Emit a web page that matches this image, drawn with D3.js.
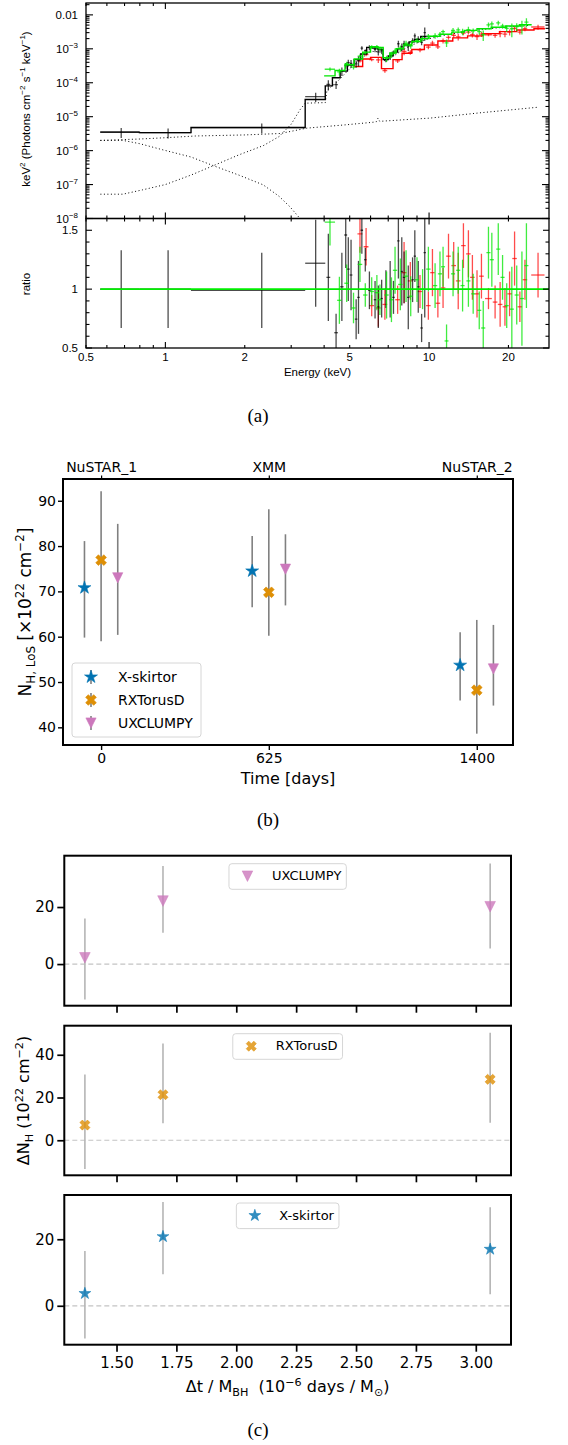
<!DOCTYPE html>
<html>
<head>
<meta charset="utf-8">
<script src="https://cdn.jsdelivr.net/npm/d3@7"></script>
<style>
  body { margin: 0; background: #fff; }
  svg { display: block; }
  text { white-space: pre; }
  .xs text { font-family: "Liberation Sans", Arial, sans-serif; }
  .mpl text { font-family: "DejaVu Sans", sans-serif; }
  .cap { font-family: "Liberation Serif", "Times New Roman", serif; font-size: 19px; }
</style>
</head>
<body>
<svg id="fig" width="568" height="1445"></svg>
<script>
// ===== (a) spectrum + ratio =====
// each point: [E keV, half bin width, flux keV^2 ph/cm2/s/keV, data/model ratio, ratio error]
var xmmPoints = [
  [0.68, 0.115, 3.5e-6, 1.00, 0.33], [1.024, 0.227, 3.4e-6, 1.00, 0.33], [2.32, 1.07, 4.75e-6, 0.99, 0.32],
  [3.715, 0.325, 3.9e-5, 1.22, 0.37], [4.15, 0.07, 8.9e-5, 1.10, 0.37], [4.44, 0.07, 8.8e-5, 0.63, 0.16],
  [4.67, 0.07, 2.2e-4, 1.02, 0.29], [4.83, 0.06, 3.2e-4, 1.46, 0.28], [4.94, 0.06, 3.9e-4, 1.17, 0.27],
  [5.06, 0.06, 3.7e-4, 1.12, 0.30], [5.29, 0.06, 3.6e-4, 0.745, 0.17], [5.40, 0.06, 4.5e-4, 0.93, 0.31],
  [5.56, 0.06, 1.05e-3, 1.50, 0.20], [5.73, 0.06, 8.8e-4, 1.25, 0.10], [5.94, 0.07, 1.09e-3, 0.99, 0.16],
  [6.24, 0.07, 9.6e-4, 0.91, 0.16], [6.42, 0.07, 8.1e-4, 0.85, 0.18], [6.61, 0.07, 8.7e-4, 0.92, 0.16],
  [6.86, 0.08, 4.8e-4, 1.00, 0.16], [7.12, 0.08, 6.2e-4, 1.00, 0.24], [7.33, 0.08, 7.4e-4, 0.93, 0.14],
  [7.65, 0.08, 1.41e-3, 1.41, 0.32], [7.88, 0.08, 1.15e-3, 1.15, 0.29], [8.04, 0.09, 1.43e-3, 1.10, 0.22],
  [8.34, 0.09, 1.21e-3, 0.93, 0.27], [8.66, 0.09, 1.73e-3, 1.08, 0.19], [8.83, 0.09, 2.4e-3, 1.28, 0.22],
  [9.10, 0.10, 1.94e-3, 1.02, 0.22], [9.37, 0.10, 1.54e-3, 0.67, 0.12], [9.63, 0.10, 3.0e-3, 1.31, 0.55]
];
var fpmaPoints = [
  [5.47, 0.12, 4.4e-4, 1.47, 0.16], [5.77, 0.12, 6.8e-4, 1.36, 0.16], [6.06, 0.13, 4.8e-4, 0.86, 0.09],
  [6.42, 0.13, 4.7e-4, 0.84, 0.16], [6.80, 0.14, 2.3e-4, 0.87, 0.13], [7.60, 0.16, 4.4e-4, 0.91, 0.12],
  [8.04, 0.17, 8.4e-4, 1.14, 0.26], [8.49, 0.18, 7.9e-4, 1.07, 0.16], [9.24, 0.19, 9.3e-4, 0.98, 0.14],
  [9.94, 0.20, 1.12e-3, 0.86, 0.12], [10.3, 0.20, 1.48e-3, 1.14, 0.20], [10.8, 0.22, 1.14e-3, 0.88, 0.12],
  [11.3, 0.23, 1.72e-3, 1.01, 0.17], [11.85, 0.24, 2.18e-3, 1.28, 0.19], [12.4, 0.25, 2.5e-3, 1.20, 0.20],
  [12.9, 0.26, 2.25e-3, 1.07, 0.24], [13.5, 0.27, 2.9e-3, 1.37, 0.19], [14.1, 0.28, 3.1e-3, 1.30, 0.20],
  [14.6, 0.29, 2.6e-3, 1.10, 0.19], [15.2, 0.30, 2.3e-3, 0.96, 0.20], [15.8, 0.32, 2.7e-3, 1.11, 0.19],
  [16.8, 0.50, 2.6e-3, 0.92, 0.09], [17.8, 0.36, 2.5e-3, 0.89, 0.14], [18.6, 0.37, 2.8e-3, 0.87, 0.19],
  [19.4, 0.39, 2.7e-3, 0.85, 0.16], [20.2, 0.40, 3.1e-3, 0.96, 0.19], [21.1, 0.42, 4.0e-3, 1.26, 0.23],
  [22.1, 0.44, 3.1e-3, 0.85, 0.13], [23.1, 0.46, 3.9e-3, 1.08, 0.17], [25.9, 1.50, 4.4e-3, 1.12, 0.19]
];
var fpmbPoints = [
  [4.21, 0.19, 2.5e-4, 1.57, 0.20], [4.57, 0.09, 2.1e-4, 0.905, 0.20], [4.87, 0.10, 3.6e-4, 1.05, 0.16],
  [5.17, 0.10, 2.9e-4, 0.84, 0.13], [5.47, 0.11, 6.1e-4, 1.21, 0.15], [5.73, 0.11, 7.6e-4, 0.95, 0.10],
  [6.06, 0.12, 1.13e-3, 0.98, 0.12], [6.34, 0.12, 1.12e-3, 0.97, 0.15], [6.51, 0.12, 1.0e-3, 0.91, 0.13],
  [6.90, 0.13, 5.2e-4, 0.95, 0.20], [7.20, 0.13, 6.8e-4, 0.91, 0.19], [7.43, 0.14, 8.7e-4, 1.16, 0.20],
  [7.78, 0.15, 1.04e-3, 1.04, 0.22], [8.18, 0.16, 1.44e-3, 1.11, 0.22], [8.52, 0.16, 1.22e-3, 0.94, 0.17],
  [9.00, 0.17, 1.78e-3, 1.08, 0.19], [9.45, 0.18, 2.0e-3, 1.00, 0.17], [9.94, 0.19, 2.34e-3, 1.17, 0.19],
  [10.54, 0.20, 2.42e-3, 1.03, 0.19], [11.0, 0.20, 2.66e-3, 1.13, 0.19], [11.3, 0.20, 3.2e-3, 1.19, 0.17],
  [11.65, 0.20, 1.5e-3, 0.56, 0.14], [12.33, 0.22, 3.5e-3, 1.13, 0.19], [12.9, 0.23, 3.6e-3, 1.16, 0.20],
  [13.4, 0.24, 3.2e-3, 1.03, 0.22], [14.1, 0.25, 3.7e-3, 1.07, 0.22], [14.7, 0.26, 3.4e-3, 0.96, 0.17],
  [15.5, 0.28, 3.2e-3, 0.82, 0.16], [16.05, 0.29, 2.6e-3, 0.67, 0.23], [16.8, 0.30, 5.1e-3, 1.31, 0.22],
  [17.3, 0.31, 5.4e-3, 1.25, 0.23], [18.3, 0.33, 5.8e-3, 1.34, 0.22], [19.0, 0.34, 4.7e-3, 1.10, 0.19],
  [19.7, 0.35, 4.0e-3, 0.86, 0.19], [20.6, 0.37, 3.9e-3, 0.83, 0.36], [21.5, 0.39, 4.5e-3, 0.95, 0.25],
  [22.5, 0.40, 4.7e-3, 0.92, 0.40], [23.4, 0.42, 6.1e-3, 1.20, 0.36]
];

// folded model histograms: bin edges and value per bin
var xmmEdges = [0.567, 0.797, 1.251, 3.39, 4.04, 4.3, 4.6, 4.9, 5.2, 5.5, 5.8, 6.1, 6.4, 6.7, 7.0, 7.3, 7.6, 8.0, 8.4, 8.8, 9.3, 9.9];
var xmmModel = [3.5e-6, 3.4e-6, 4.8e-6, 3.2e-5, 8.1e-5, 1.4e-4, 2.2e-4, 3.3e-4, 4.8e-4, 7.0e-4, 1.1e-3, 1.05e-3, 9.5e-4, 4.8e-4, 6.2e-4, 8.0e-4, 1.0e-3, 1.3e-3, 1.6e-3, 1.9e-3, 2.3e-3];
var fpmaEdges = [5.2, 5.6, 6.0, 6.6, 7.3, 7.9, 8.6, 9.6, 10.8, 12.3, 14.0, 16.0, 18.5, 21.5, 25.0, 27.5];
var fpmaModel = [3.0e-4, 5.0e-4, 5.6e-4, 2.6e-4, 4.8e-4, 7.4e-4, 9.5e-4, 1.3e-3, 1.7e-3, 2.1e-3, 2.4e-3, 2.8e-3, 3.2e-3, 3.6e-3, 3.9e-3];
var fpmbEdges = [4.0, 4.4, 4.8, 5.2, 5.6, 6.0, 6.4, 6.7, 7.1, 7.5, 8.0, 8.6, 9.3, 10.0, 11.0, 12.2, 13.6, 15.2, 17.2, 19.5, 22.0, 24.5];
var fpmbModel = [1.6e-4, 2.3e-4, 3.4e-4, 5.0e-4, 8.0e-4, 1.15e-3, 1.1e-3, 5.5e-4, 7.5e-4, 1.0e-3, 1.3e-3, 1.65e-3, 2.0e-3, 2.35e-3, 2.7e-3, 3.1e-3, 3.5e-3, 3.9e-3, 4.3e-3, 4.7e-3, 5.1e-3];

// model components (dotted): [E, flux]
var compSoft = [[0.567, 2.0e-6], [0.69, 2.0e-6], [0.8, 1.6e-6], [0.98, 1.05e-6], [1.25, 6.5e-7], [1.52, 3.6e-7],
  [1.9, 1.9e-7], [2.35, 9.8e-8], [2.7, 4.5e-8], [2.97, 2.2e-8], [3.24, 1.0e-8], [3.5, 5e-9]];
var compMain = [[0.567, 5.2e-8], [0.69, 5.2e-8], [0.82, 7e-8], [1.0, 1.0e-7], [1.25, 1.9e-7], [1.52, 3.6e-7],
  [1.9, 7.5e-7], [2.35, 1.4e-6], [2.7, 2.6e-6], [3.0, 6e-6], [3.24, 1.6e-5], [3.39, 2.5e-5], [4.04, 2.6e-5],
  [4.1, 6.0e-5], [4.5, 1.1e-4], [5.0, 2.6e-4], [5.5, 5.0e-4], [6.0, 8.5e-4], [6.6, 8.0e-4], [6.8, 4.2e-4],
  [7.2, 5.6e-4], [8.0, 9.5e-4], [9.0, 1.5e-3], [10, 2.0e-3], [12, 2.7e-3], [15, 3.5e-3], [18, 4.1e-3],
  [21, 4.6e-3], [24, 4.9e-3]];
var compScat = [[0.567, 2.0e-6], [0.8, 2.2e-6], [1.0, 2.4e-6], [1.3, 2.7e-6], [2.0, 2.9e-6], [2.73, 3.2e-6],
  [3.44, 4.6e-6], [4.88, 5.8e-6], [6.3, 7.0e-6], [6.4, 9.0e-6], [6.5, 7.3e-6], [10.1, 9.1e-6], [15.6, 1.3e-5],
  [25.9, 1.9e-5]];

var energyLabels = [0.5, 1, 2, 5, 10, 20];
var fluxTickVals = [1e-2, 1e-3, 1e-4, 1e-5, 1e-6, 1e-7, 1e-8];
var fluxTickExp = ["", "−3", "−4", "−5", "−6", "−7", "−8"];
var ratioLabels = [0.5, 1, 1.5];

// ===== (b) N_H per epoch =====
var epochDays = [0, 625, 1400];
var epochNames = ["NuSTAR_1", "XMM", "NuSTAR_2"];
var modelNames = ["X-skirtor", "RXTorusD", "UXCLUMPY"];
var nhVal = [[70.8, 74.5, 53.7], [76.9, 69.8, 48.2], [73.0, 74.9, 52.9]];
var nhLo = [[59.8, 66.5, 45.9], [59.0, 60.2, 38.6], [60.4, 66.9, 44.8]];
var nhHi = [[81.1, 82.2, 61.0], [92.1, 88.1, 63.7], [84.9, 82.6, 62.6]];
var nhTicks = [40, 50, 60, 70, 80, 90];

// ===== (c) Delta N_H vs dt/M =====
var dtOverM = [1.368, 1.694, 3.06];
var dnhVal = [[3.7, 20.8, 17.0], [7.1, 21.3, 28.5], [2.2, 22.1, 20.1]];
var dnhLo = [[-9.8, 9.5, 3.5], [-13.4, 7.9, 8.2], [-12.4, 11.0, 5.5]];
var dnhHi = [[16.5, 31.2, 29.6], [30.8, 45.3, 50.3], [16.0, 34.4, 35.3]];
var dtTicks = [1.50, 1.75, 2.00, 2.25, 2.50, 2.75, 3.00];

// styles
var modelColors = ["#0173b2", "#de8f05", "#cc78bc"];
var modelShapes = ["star", "x", "tri"];
var dodgeDays = [-62, 0, 62];

var svg = d3.select("#fig");
var defs = svg.append("defs");

function rich(t, parts, fs) {
  var shift = 0;
  parts.forEach(function(p) {
    var mode = p[1] || "";
    var target = mode === "sup" ? -0.4 * fs : mode === "sub" ? 0.25 * fs : 0;
    t.append("tspan").attr("dy", target - shift).attr("font-size", mode ? fs * 0.7 : fs).text(p[0]);
    shift = target;
  });
}

// ---------------- panel (a) ----------------
var A = {left: 86, right: 549, top: 3, mid: 218.5, bottom: 348};
var xa = d3.scaleLog().domain([0.5, 28.5]).range([A.left, A.right]);
var ya = d3.scaleLog().domain([1e-8, Math.pow(10, -1.65)]).range([A.mid, A.top]);
var yr = d3.scaleLinear().domain([0.5, 1.6]).range([A.bottom, A.mid]);

defs.append("clipPath").attr("id", "clipTop").append("rect")
  .attr("x", A.left).attr("y", A.top).attr("width", A.right - A.left).attr("height", A.mid - A.top);
defs.append("clipPath").attr("id", "clipRat").append("rect")
  .attr("x", A.left).attr("y", A.mid).attr("width", A.right - A.left).attr("height", A.bottom - A.mid);

var gA = svg.append("g").attr("class", "xs");
var topG = gA.append("g").attr("clip-path", "url(#clipTop)");
var ratG = gA.append("g").attr("clip-path", "url(#clipRat)");

var lineA = d3.line().x(function(d) { return xa(d[0]); }).y(function(d) { return ya(d[1]); });
[compSoft, compMain, compScat].forEach(function(c) {
  topG.append("path").attr("d", lineA(c)).attr("fill", "none")
    .attr("stroke", "#000").attr("stroke-width", 1).attr("stroke-dasharray", "1,2.5");
});

var stepLine = d3.line().curve(d3.curveStepAfter)
  .x(function(d) { return xa(d[0]); }).y(function(d) { return ya(d[1]); });
function stepPts(edges, vals) {
  var p = vals.map(function(v, i) { return [edges[i], v]; });
  p.push([edges[edges.length - 1], vals[vals.length - 1]]);
  return p;
}

var specSets = [
  {pts: fpmaPoints, edges: fpmaEdges, vals: fpmaModel, color: "#ff0000", op: 0.7},
  {pts: xmmPoints, edges: xmmEdges, vals: xmmModel, color: "#000000", op: 0.7},
  {pts: fpmbPoints, edges: fpmbEdges, vals: fpmbModel, color: "#00e600", op: 0.75}
];

specSets.forEach(function(s) {
  var g = topG.append("g").attr("stroke", s.color).attr("stroke-opacity", s.op).attr("stroke-width", 1.3);
  var r = ratG.append("g").attr("stroke", s.color).attr("stroke-opacity", s.op).attr("stroke-width", 1.3);
  s.pts.forEach(function(p) {
    var E = p[0], dE = p[1], f = p[2], q = p[3], qe = p[4], fr = qe / q;
    g.append("line").attr("x1", xa(E)).attr("x2", xa(E))
      .attr("y1", ya(f * (1 + fr))).attr("y2", ya(Math.max(f * (1 - fr), 1e-9)));
    g.append("line").attr("x1", xa(E - dE)).attr("x2", xa(E + dE)).attr("y1", ya(f)).attr("y2", ya(f));
    r.append("line").attr("x1", xa(E)).attr("x2", xa(E)).attr("y1", yr(q + qe)).attr("y2", yr(q - qe));
    r.append("line").attr("x1", xa(E - dE)).attr("x2", xa(E + dE)).attr("y1", yr(q)).attr("y2", yr(q));
  });
  topG.append("path").attr("d", stepLine(stepPts(s.edges, s.vals))).attr("fill", "none")
    .attr("stroke", s.color).attr("stroke-width", 1.4);
});

ratG.append("line").attr("x1", xa(0.567)).attr("x2", A.right).attr("y1", yr(1)).attr("y2", yr(1))
  .attr("stroke", "#00ee00").attr("stroke-width", 1.8);

// frame
[[A.top, A.mid], [A.mid, A.bottom]].forEach(function(b) {
  gA.append("rect").attr("x", A.left).attr("y", b[0]).attr("width", A.right - A.left).attr("height", b[1] - b[0])
    .attr("fill", "none").attr("stroke", "#000").attr("stroke-width", 1.3);
});

// ticks (inward, all sides)
var tk = gA.append("g").attr("stroke", "#000").attr("stroke-width", 1.1);
var xTicks = [];
[0.1, 1, 10].forEach(function(d) {
  for (var k = 1; k < 10; k++) { var v = k * d; if (v >= 0.5 && v <= 28.5) xTicks.push({v: v, major: k === 1}); }
});
xTicks.forEach(function(t) {
  var x = xa(t.v), L = t.major ? 6 : 3;
  [[A.top, 1], [A.mid, -1], [A.mid, 1], [A.bottom, -1]].forEach(function(e) {
    tk.append("line").attr("x1", x).attr("x2", x).attr("y1", e[0]).attr("y2", e[0] + e[1] * L);
  });
});
for (var e = -8; e <= -2; e++) {
  for (var k = 1; k < 10; k++) {
    var v = k * Math.pow(10, e);
    if (v > ya.domain()[1]) break;
    var y = ya(v), L = k === 1 ? 7 : 3.5;
    tk.append("line").attr("x1", A.left).attr("x2", A.left + L).attr("y1", y).attr("y2", y);
    tk.append("line").attr("x1", A.right).attr("x2", A.right - L).attr("y1", y).attr("y2", y);
  }
}
d3.range(0.5, 1.61, 0.1).forEach(function(v) {
  var y = yr(v), major = Math.abs(v * 2 - Math.round(v * 2)) < 1e-6, L = major ? 6 : 3.5;
  tk.append("line").attr("x1", A.left).attr("x2", A.left + L).attr("y1", y).attr("y2", y);
  tk.append("line").attr("x1", A.right).attr("x2", A.right - L).attr("y1", y).attr("y2", y);
});

var fsA = 11.5;
energyLabels.forEach(function(v) {
  gA.append("text").attr("x", xa(v)).attr("y", 361).attr("text-anchor", "middle").attr("font-size", fsA).text(v);
});
fluxTickVals.forEach(function(v, i) {
  var t = gA.append("text").attr("x", 78).attr("y", ya(v) + 4).attr("text-anchor", "end").attr("font-size", fsA);
  if (fluxTickExp[i] === "") t.text("0.01");
  else {
    t.append("tspan").text("10");
    t.append("tspan").attr("dy", -5).attr("font-size", 8).text(fluxTickExp[i]);
  }
});
ratioLabels.forEach(function(v) {
  gA.append("text").attr("x", 78).attr("y", yr(v) + 4).attr("text-anchor", "end").attr("font-size", fsA).text(v);
});
gA.append("text").attr("x", (A.left + A.right) / 2).attr("y", 376).attr("text-anchor", "middle")
  .attr("font-size", fsA).text("Energy (keV)");
rich(gA.append("text").attr("transform", "translate(29.5,109) rotate(-90)").attr("text-anchor", "middle"),
  [["keV"], ["2", "sup"], [" (Photons cm"], ["−2", "sup"], [" s"], ["−1", "sup"], [" keV"], ["−1", "sup"], [")"]], fsA);
gA.append("text").attr("transform", "translate(29.5,284) rotate(-90)").attr("text-anchor", "middle")
  .attr("font-size", fsA).text("ratio");

svg.append("text").attr("class", "cap").attr("x", 258).attr("y", 422).attr("text-anchor", "middle").text("(a)");

// ---------------- markers ----------------
function marker(g, shape, x, y, color, sz) {
  var p;
  if (shape === "star") {
    p = g.append("path").attr("d", d3.symbol(d3.symbolStar, sz.star)()).attr("transform", "translate(" + x + "," + y + ")");
  } else if (shape === "x") {
    p = g.append("path").attr("d", d3.symbol(d3.symbolCross, sz.x)()).attr("transform", "translate(" + x + "," + y + ") rotate(45)");
  } else {
    var r = sz.tri;
    p = g.append("path").attr("d", "M" + (-r) + "," + (-r) + "L" + r + "," + (-r) + "L0," + r + "Z")
      .attr("transform", "translate(" + x + "," + y + ")");
  }
  return p.attr("fill", color).attr("stroke", color).attr("stroke-width", 0.6).attr("stroke-linejoin", "round");
}

// ---------------- panel (b) ----------------
var B = {left: 63, right: 513, top: 479, bottom: 745};
var xb = d3.scaleLinear().domain([-142, 1535]).range([B.left, B.right]);
var yb = d3.scaleLinear().domain([36.1, 94.8]).range([B.bottom, B.top]);
var gB = svg.append("g").attr("class", "mpl");
var szB = {star: 52, x: 72, tri: 5.1};

function styleAxis(g, fs, w) {
  g.select(".domain").remove();
  g.attr("font-size", fs).attr("font-family", null);
  g.selectAll("line").attr("stroke", "#000").attr("stroke-width", w);
  g.selectAll("text").attr("fill", "#000");
}

gB.append("g").attr("transform", "translate(" + B.left + ",0)")
  .call(d3.axisLeft(yb).tickValues(nhTicks).tickSize(5).tickPadding(2))
  .call(styleAxis, 14, 1.4);
gB.append("g").attr("transform", "translate(0," + B.bottom + ")")
  .call(d3.axisBottom(xb).tickValues(epochDays).tickSize(5).tickPadding(3).tickFormat(d3.format("d")))
  .call(styleAxis, 14, 1.4);
gB.append("g").attr("transform", "translate(0," + B.top + ")")
  .call(d3.axisTop(xb).tickValues(epochDays).tickSize(3.5).tickPadding(4)
    .tickFormat(function(d, i) { return epochNames[i]; }))
  .call(styleAxis, 14, 1.2);

modelNames.forEach(function(m, j) {
  epochDays.forEach(function(d, i) {
    var x = xb(d + dodgeDays[j]);
    gB.append("line").attr("x1", x).attr("x2", x).attr("y1", yb(nhHi[j][i])).attr("y2", yb(nhLo[j][i]))
      .attr("stroke", "#808080").attr("stroke-width", 1.6);
  });
});
modelNames.forEach(function(m, j) {
  epochDays.forEach(function(d, i) {
    marker(gB, modelShapes[j], xb(d + dodgeDays[j]), yb(nhVal[j][i]), modelColors[j], szB);
  });
});

gB.append("rect").attr("x", B.left).attr("y", B.top).attr("width", B.right - B.left).attr("height", B.bottom - B.top)
  .attr("fill", "none").attr("stroke", "#000").attr("stroke-width", 2);

var legB = gB.append("g");
legB.append("rect").attr("x", B.left + 9).attr("y", B.bottom - 82).attr("width", 129).attr("height", 74)
  .attr("rx", 3).attr("fill", "#fff").attr("fill-opacity", 0.8).attr("stroke", "#d6d6d6");
modelNames.forEach(function(m, j) {
  var y = B.bottom - 68 + j * 23;
  legB.append("line").attr("x1", B.left + 28).attr("x2", B.left + 28).attr("y1", y - 7).attr("y2", y + 7)
    .attr("stroke", "#808080").attr("stroke-width", 1.6);
  marker(legB, modelShapes[j], B.left + 28, y, modelColors[j], szB);
  legB.append("text").attr("x", B.left + 55).attr("y", y).attr("dy", "0.36em").attr("font-size", 14).text(m);
});

gB.append("text").attr("x", (B.left + B.right) / 2).attr("y", 784).attr("text-anchor", "middle")
  .attr("font-size", 16).text("Time [days]");
rich(gB.append("text").attr("transform", "translate(31," + ((B.top + B.bottom) / 2) + ") rotate(-90)").attr("text-anchor", "middle"),
  [["N"], ["H, LoS", "sub"], [" [×10"], ["22", "sup"], [" cm"], ["−2", "sup"], ["]"]], 17);

svg.append("text").attr("class", "cap").attr("x", 268).attr("y", 826).attr("text-anchor", "middle").text("(b)");

// ---------------- panel (c) ----------------
var C = {left: 64.3, right: 511};
var xc = d3.scaleLinear().domain([1.282, 3.147]).range([C.left, C.right]);
var subs = [
  {model: 2, top: 855.7, bottom: 1005.7, dom: [-14.6, 38], ticks: [0, 20]},
  {model: 1, top: 1025.7, bottom: 1175.3, dom: [-16.4, 53.6], ticks: [0, 20, 40]},
  {model: 0, top: 1195, bottom: 1344.7, dom: [-11.7, 33.3], ticks: [0, 20]}
];
var szC = {star: 44, x: 64, tri: 5.3};
var gC = svg.append("g").attr("class", "mpl");

subs.forEach(function(s, si) {
  var yc = d3.scaleLinear().domain(s.dom).range([s.bottom, s.top]);
  var g = gC.append("g");
  var j = s.model;
  g.append("line").attr("x1", C.left).attr("x2", C.right).attr("y1", yc(0)).attr("y2", yc(0))
    .attr("stroke", "#c4c4c4").attr("stroke-width", 1.2).attr("stroke-dasharray", "5,3");
  dtOverM.forEach(function(d, i) {
    g.append("line").attr("x1", xc(d)).attr("x2", xc(d)).attr("y1", yc(dnhHi[j][i])).attr("y2", yc(dnhLo[j][i]))
      .attr("stroke", "#b5b5b5").attr("stroke-width", 1.6);
  });
  dtOverM.forEach(function(d, i) {
    marker(g, modelShapes[j], xc(d), yc(dnhVal[j][i]), modelColors[j], szC).attr("fill-opacity", 0.8).attr("stroke-opacity", 0.8);
  });
  g.append("g").attr("transform", "translate(" + C.left + ",0)")
    .call(d3.axisLeft(yc).tickValues(s.ticks).tickSize(7).tickPadding(3))
    .call(styleAxis, 15, 1.7);
  var xAx = d3.axisBottom(xc).tickValues(dtTicks).tickSize(7).tickPadding(6);
  if (si < 2) xAx.tickFormat("");
  else xAx.tickFormat(d3.format(".2f"));
  g.append("g").attr("transform", "translate(0," + s.bottom + ")").call(xAx).call(styleAxis, 15, 1.7);
  g.append("rect").attr("x", C.left).attr("y", s.top).attr("width", C.right - C.left).attr("height", s.bottom - s.top)
    .attr("fill", "none").attr("stroke", "#000").attr("stroke-width", 2);

  // legend (upper center)
  var leg = g.append("g");
  var box = leg.append("rect").attr("y", s.top + 8).attr("height", 25.6).attr("rx", 3)
    .attr("fill", "#fff").attr("fill-opacity", 0.8).attr("stroke", "#d6d6d6");
  var txt = leg.append("text").attr("y", s.top + 20).attr("dy", "0.36em").attr("font-size", 13).text(modelNames[j]);
  var tw = txt.node().getComputedTextLength();
  var bw = 43 + tw + 5, bx = (C.left + C.right) / 2 - bw / 2;
  box.attr("x", bx).attr("width", bw);
  txt.attr("x", bx + 43);
  marker(leg, modelShapes[j], bx + 18.5, s.top + 20.5, modelColors[j], szC).attr("fill-opacity", 0.8).attr("stroke-opacity", 0.8);
});

rich(gC.append("text").attr("transform", "translate(29,1100.5) rotate(-90)").attr("text-anchor", "middle"),
  [["ΔN"], ["H", "sub"], [" (10"], ["22", "sup"], [" cm"], ["−2", "sup"], [")"]], 16);
rich(gC.append("text").attr("x", (C.left + C.right) / 2).attr("y", 1392).attr("text-anchor", "middle"),
  [["Δt / M"], ["BH", "sub"], ["  (10"], ["−6", "sup"], [" days / M"], ["⊙", "sub"], [")"]], 16);

svg.append("text").attr("class", "cap").attr("x", 258).attr("y", 1436).attr("text-anchor", "middle").text("(c)");
</script>
</body>
</html>
